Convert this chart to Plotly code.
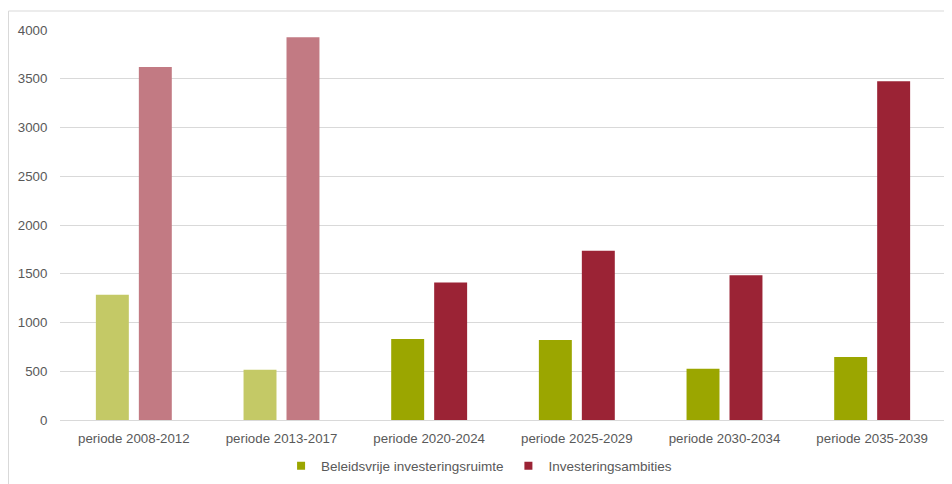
import plotly.graph_objects as go

categories = ["periode 2008-2012", "periode 2013-2017", "periode 2020-2024",
              "periode 2025-2029", "periode 2030-2034", "periode 2035-2039"]
beleidsvrij = [1285, 515, 830, 820, 525, 645]
ambities = [3620, 3925, 1410, 1735, 1485, 3475]
tick_vals = [0, 500, 1000, 1500, 2000, 2500, 3000, 3500, 4000]

green = "#9BA600"
green_light = "#C4C966"
red = "#9B2335"
red_light = "#C27A83"
n_light = 2

green_cols = [green_light if i < n_light else green for i in range(len(categories))]
red_cols = [red_light if i < n_light else red for i in range(len(categories))]

fig = go.Figure()
fig.add_trace(go.Bar(x=categories, y=beleidsvrij, marker=dict(color=green_cols, line=dict(width=0)),
                     name="Beleidsvrije investeringsruimte", showlegend=False))
fig.add_trace(go.Bar(x=categories, y=ambities, marker=dict(color=red_cols, line=dict(width=0)),
                     name="Investeringsambities", showlegend=False))
# legend entries (small squares)
fig.add_trace(go.Scatter(x=[categories[0]], y=[None], mode="markers",
                         marker=dict(color=green, symbol="square", size=8),
                         name="Beleidsvrije investeringsruimte"))
fig.add_trace(go.Scatter(x=[categories[0]], y=[None], mode="markers",
                         marker=dict(color=red, symbol="square", size=8),
                         name="Investeringsambities"))

fig.update_layout(
    width=944, height=476,
    margin=dict(l=52, r=6, t=22, b=64, autoexpand=False),
    paper_bgcolor="white", plot_bgcolor="white",
    barmode="group", bargap=0.418, bargroupgap=0.233,
    font=dict(family="Liberation Sans, Arial, sans-serif", size=13, color="#595959"),
    showlegend=True,
    legend=dict(orientation="h", x=0.473, xanchor="center", y=-0.118, yanchor="middle",
                font=dict(size=13.5, color="#595959"), itemwidth=30, traceorder="normal",
                tracegroupgap=0, itemclick=False),
    xaxis=dict(showgrid=False, showline=False, ticks="outside", ticklen=6,
               tickcolor="rgba(0,0,0,0)", tickfont=dict(size=13.3, color="#595959")),
    yaxis=dict(range=[0, 4000], tickvals=tick_vals, showgrid=True, gridcolor="#d9d9d9", gridwidth=1,
               zeroline=True, zerolinecolor="#d9d9d9", zerolinewidth=1, ticks="outside", ticklen=9,
               tickcolor="rgba(0,0,0,0)", tickfont=dict(size=13.3, color="#595959")),
    shapes=[dict(type="rect", xref="paper", yref="paper", x0=-0.0581, x1=1.2, y0=-0.4, y1=1.0487,
                 line=dict(color="#d9d9d9", width=1), fillcolor="rgba(0,0,0,0)", layer="below")],
)

fig.write_html("out.html")
